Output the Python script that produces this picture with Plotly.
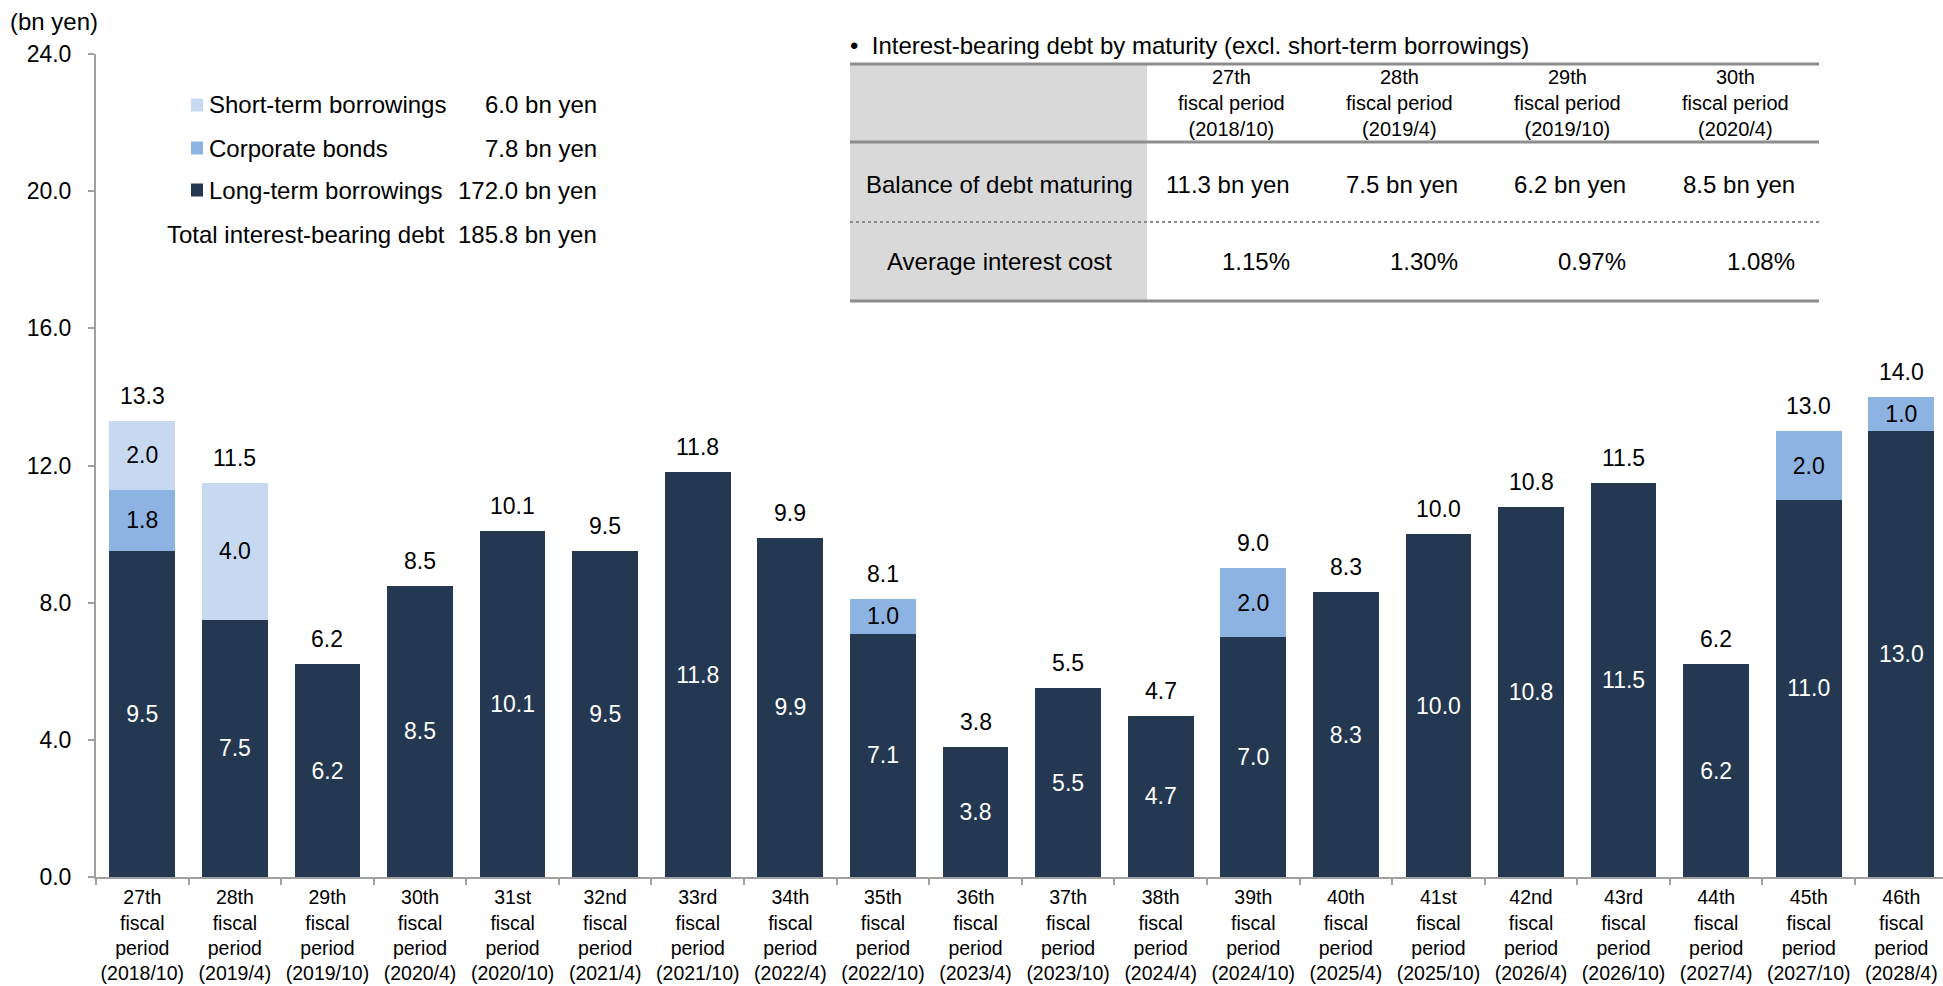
import plotly.graph_objects as go

# ---------------- data ----------------
period_nums = ["27th", "28th", "29th", "30th", "31st", "32nd", "33rd", "34th", "35th", "36th",
               "37th", "38th", "39th", "40th", "41st", "42nd", "43rd", "44th", "45th", "46th"]
period_dates = ["2018/10", "2019/4", "2019/10", "2020/4", "2020/10", "2021/4", "2021/10", "2022/4",
                "2022/10", "2023/4", "2023/10", "2024/4", "2024/10", "2025/4", "2025/10", "2026/4",
                "2026/10", "2027/4", "2027/10", "2028/4"]
long_term = [9.5, 7.5, 6.2, 8.5, 10.1, 9.5, 11.8, 9.9, 7.1, 3.8,
             5.5, 4.7, 7.0, 8.3, 10.0, 10.8, 11.5, 6.2, 11.0, 13.0]
corporate_bonds = [1.8, 0, 0, 0, 0, 0, 0, 0, 1.0, 0,
                   0, 0, 2.0, 0, 0, 0, 0, 0, 2.0, 1.0]
short_term = [2.0, 4.0, 0, 0, 0, 0, 0, 0, 0, 0,
              0, 0, 0, 0, 0, 0, 0, 0, 0, 0]

legend_names = ["Short-term borrowings", "Corporate bonds", "Long-term borrowings"]
legend_values = ["6.0 bn yen", "7.8 bn yen", "172.0 bn yen"]
total_label = "Total interest-bearing debt"
total_value = "185.8 bn yen"

table_title = "•  Interest-bearing debt by maturity (excl. short-term borrowings)"
table_periods = ["27th", "28th", "29th", "30th"]
table_dates = ["2018/10", "2019/4", "2019/10", "2020/4"]
table_balance = ["11.3 bn yen", "7.5 bn yen", "6.2 bn yen", "8.5 bn yen"]
table_rate = ["1.15%", "1.30%", "0.97%", "1.08%"]

# ---------------- styling ----------------
FONT = "Liberation Sans, Arial, sans-serif"
C_LONG = "#243851"
C_BOND = "#8DB3E2"
C_SHORT = "#C6D9F1"
AXIS_C = "#A0A0A0"

W, H = 1943, 986
L, T, B = 96, 54, 109
PLOT_W = W - L
PLOT_H = H - T - B


def px(x):
    return (x - L) / PLOT_W


def py(y):
    return (H - B - y) / PLOT_H


cats = [f"{n}<br>fiscal<br>period<br>({d})" for n, d in zip(period_nums, period_dates)]
totals = [round(a + b + c, 1) for a, b, c in zip(long_term, corporate_bonds, short_term)]


def seg_text(vals):
    return [f"{v:.1f}" if v > 0 else "" for v in vals]


fig = go.Figure()
fig.add_trace(go.Bar(x=cats, y=long_term, name=legend_names[2], marker=dict(color=C_LONG, line=dict(width=0)),
                     text=seg_text(long_term), textposition="inside", insidetextanchor="middle",
                     textangle=0, constraintext="none",
                     textfont=dict(color="white", size=23, family=FONT)))
fig.add_trace(go.Bar(x=cats, y=corporate_bonds, name=legend_names[1], marker=dict(color=C_BOND, line=dict(width=0)),
                     text=seg_text(corporate_bonds), textposition="inside", insidetextanchor="middle",
                     textangle=0, constraintext="none",
                     textfont=dict(color="black", size=23, family=FONT)))
fig.add_trace(go.Bar(x=cats, y=short_term, name=legend_names[0], marker=dict(color=C_SHORT, line=dict(width=0)),
                     text=seg_text(short_term), textposition="inside", insidetextanchor="middle",
                     textangle=0, constraintext="none",
                     textfont=dict(color="black", size=23, family=FONT)))

annotations = []
# totals above bars
for c, t in zip(cats, totals):
    annotations.append(dict(x=c, y=t, xref="x", yref="y", text=f"{t:.1f}", showarrow=False,
                            yanchor="middle", yshift=25, font=dict(size=23, color="black", family=FONT)))

# y-axis unit
annotations.append(dict(x=px(8), y=py(22), xref="paper", yref="paper", text="(bn yen)", showarrow=False,
                        xanchor="left", yanchor="middle", font=dict(size=24, color="black", family=FONT)))

shapes = []
# custom legend
leg_rows_y = [105, 148, 190]
leg_colors = [C_SHORT, C_BOND, C_LONG]
for name, val, yc, col in zip(legend_names, legend_values, leg_rows_y, leg_colors):
    shapes.append(dict(type="rect", xref="paper", yref="paper", x0=px(191), x1=px(203),
                       y0=py(yc - 6.5), y1=py(yc + 6.5), fillcolor=col, line=dict(width=0)))
    annotations.append(dict(x=px(207), y=py(yc), xref="paper", yref="paper", text=name, showarrow=False,
                            xanchor="left", yanchor="middle", font=dict(size=24, color="black", family=FONT)))
    annotations.append(dict(x=px(599), y=py(yc), xref="paper", yref="paper", text=val, showarrow=False,
                            xanchor="right", yanchor="middle", font=dict(size=24, color="black", family=FONT)))
annotations.append(dict(x=px(447), y=py(234), xref="paper", yref="paper", text=total_label, showarrow=False,
                        xanchor="right", yanchor="middle", font=dict(size=24, color="black", family=FONT)))
annotations.append(dict(x=px(599), y=py(234), xref="paper", yref="paper", text=total_value, showarrow=False,
                        xanchor="right", yanchor="middle", font=dict(size=24, color="black", family=FONT)))

# table
TX0, TX1 = 850, 1819
shapes.append(dict(type="rect", xref="paper", yref="paper", x0=px(TX0), x1=px(1147), y0=py(64), y1=py(301),
                   fillcolor="#D9D9D9", line=dict(width=0), layer="above"))
for yy in (64, 142, 301):
    shapes.append(dict(type="line", xref="paper", yref="paper", x0=px(TX0), x1=px(TX1), y0=py(yy), y1=py(yy),
                       line=dict(color="#8C8C8C", width=3), layer="above"))
shapes.append(dict(type="line", xref="paper", yref="paper", x0=px(TX0), x1=px(TX1), y0=py(222), y1=py(222),
                   line=dict(color="#8C8C8C", width=2, dash="dot"), layer="above"))

annotations.append(dict(x=px(848), y=py(45), xref="paper", yref="paper", text=table_title, showarrow=False,
                        xanchor="left", yanchor="middle", font=dict(size=24, color="black", family=FONT)))
col_centers = [1231, 1399, 1567, 1735]
col_rights = [1292, 1460, 1628, 1797]
for n, d, cx in zip(table_periods, table_dates, col_centers):
    annotations.append(dict(x=px(cx), y=py(103), xref="paper", yref="paper",
                            text=f"{n}<br>fiscal period<br>({d})", showarrow=False,
                            xanchor="center", yanchor="middle", align="center",
                            font=dict(size=20, color="black", family=FONT)))
annotations.append(dict(x=px(999), y=py(184), xref="paper", yref="paper", text="Balance of debt maturing",
                        showarrow=False, xanchor="center", yanchor="middle",
                        font=dict(size=24, color="black", family=FONT)))
annotations.append(dict(x=px(999), y=py(261), xref="paper", yref="paper", text="Average interest cost",
                        showarrow=False, xanchor="center", yanchor="middle",
                        font=dict(size=24, color="black", family=FONT)))
for b, r, rx in zip(table_balance, table_rate, col_rights):
    annotations.append(dict(x=px(rx), y=py(184), xref="paper", yref="paper", text=b, showarrow=False,
                            xanchor="right", yanchor="middle", font=dict(size=24, color="black", family=FONT)))
    annotations.append(dict(x=px(rx), y=py(261), xref="paper", yref="paper", text=r, showarrow=False,
                            xanchor="right", yanchor="middle", font=dict(size=24, color="black", family=FONT)))

fig.update_layout(
    width=W, height=H,
    margin=dict(l=L, r=0, t=T, b=B, pad=0, autoexpand=False),
    paper_bgcolor="white", plot_bgcolor="white",
    barmode="stack", bargap=0.29,
    showlegend=False,
    font=dict(family=FONT, color="black"),
    annotations=annotations,
    shapes=shapes,
    xaxis=dict(type="category", range=[-0.5, 19.45], showgrid=False, showline=True, linecolor=AXIS_C,
               linewidth=2, ticks="outside", tickson="boundaries", ticklen=6, tickcolor=AXIS_C, tickwidth=2,
               tickangle=0, automargin=False,
               tickfont=dict(size=19.5, color="black", family=FONT), ticklabelstandoff=2),
    yaxis=dict(range=[0, 24], dtick=4, tickformat=".1f", showgrid=False, zeroline=False, showline=True,
               linecolor=AXIS_C, linewidth=2, ticks="outside", ticklen=6, tickcolor=AXIS_C, tickwidth=2,
               automargin=False,
               tickfont=dict(size=23, color="black", family=FONT), ticklabelstandoff=12),
)

fig.write_html("out.html")
